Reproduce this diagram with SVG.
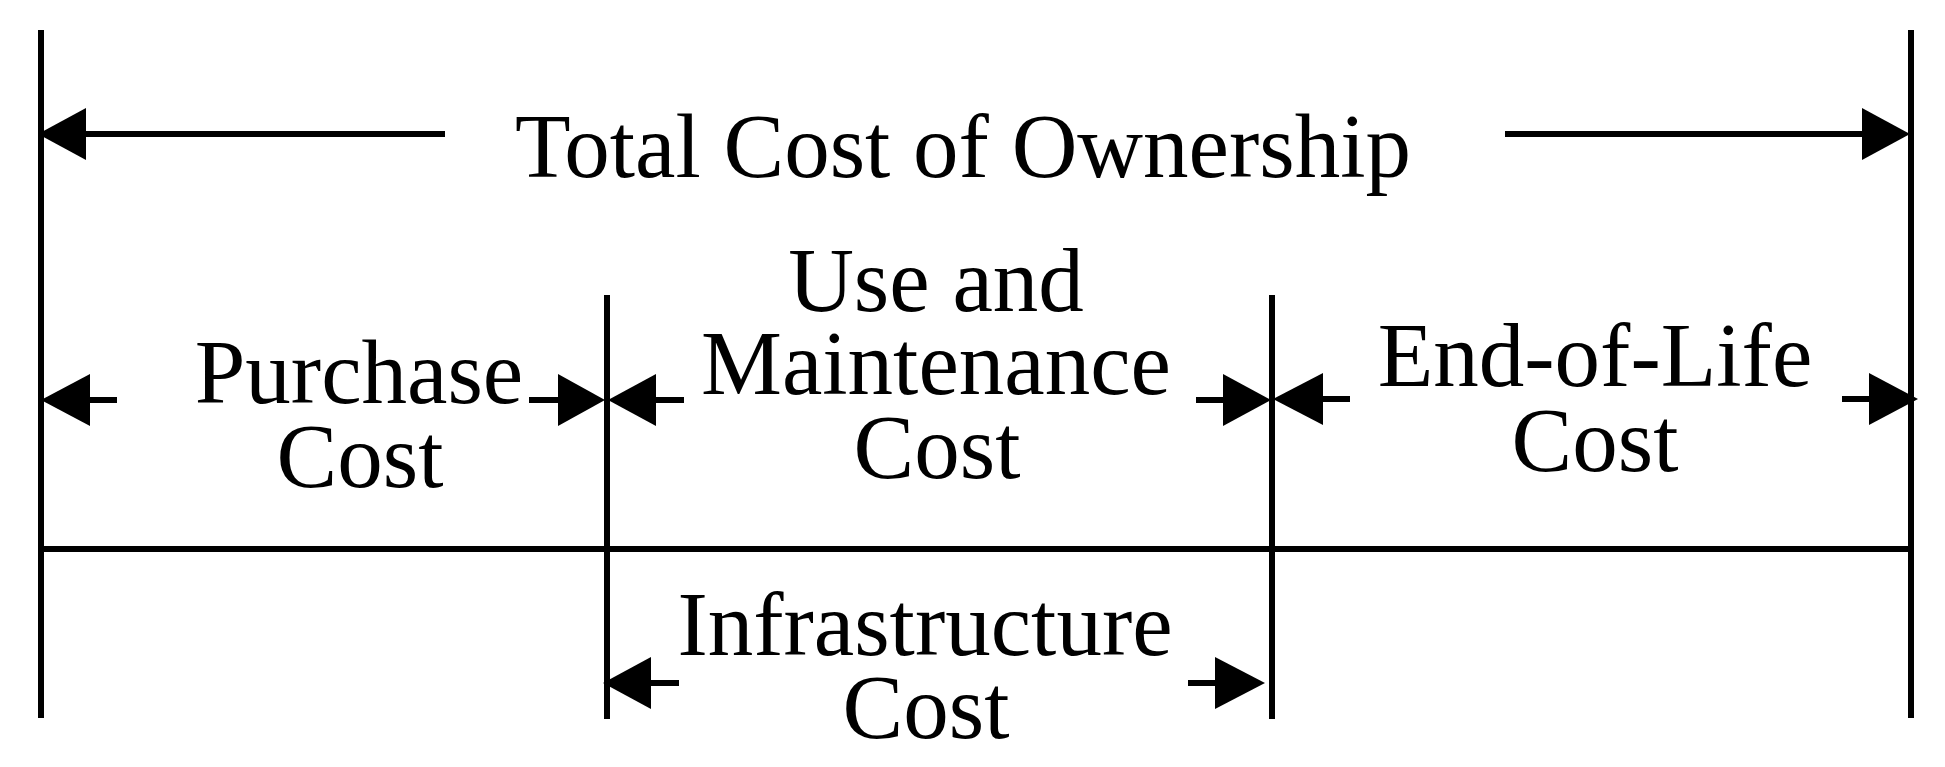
<svg xmlns="http://www.w3.org/2000/svg" width="1945" height="767" viewBox="0 0 1945 767">
<style>
.ln{stroke:#000;stroke-width:6;fill:none}
.hd{fill:#000;stroke:none}
.t{font-family:"Liberation Serif","Times New Roman",serif;font-size:91px;fill:#000;text-anchor:middle}
</style>
<rect width="1945" height="767" fill="#fff"/>
<g id="frame">
<line class="ln" x1="41" y1="30" x2="41" y2="718"/>
<line class="ln" x1="1911" y1="30" x2="1911" y2="718"/>
<line class="ln" x1="607" y1="295" x2="607" y2="719"/>
<line class="ln" x1="1272" y1="295" x2="1272" y2="719"/>
<line class="ln" x1="41" y1="549" x2="1911" y2="549"/>
</g>
<g id="connectors">
<line class="ln" x1="84" y1="134" x2="445" y2="134"/>
<polygon class="hd" points="38,134 86,108 86,160"/>
<line class="ln" x1="1505" y1="134" x2="1864" y2="134"/>
<polygon class="hd" points="1910,134 1862,108 1862,160"/>
<line class="ln" x1="88" y1="400" x2="117" y2="400"/>
<polygon class="hd" points="41,400 90,374 90,426"/>
<line class="ln" x1="529" y1="400" x2="560" y2="400"/>
<polygon class="hd" points="605,400 558,374 558,426"/>
<line class="ln" x1="654" y1="400" x2="684" y2="400"/>
<polygon class="hd" points="608,400 656,374 656,426"/>
<line class="ln" x1="1196" y1="400" x2="1225" y2="400"/>
<polygon class="hd" points="1271,400 1223,374 1223,426"/>
<line class="ln" x1="1321" y1="399" x2="1350" y2="399"/>
<polygon class="hd" points="1273,399 1323,373 1323,425"/>
<line class="ln" x1="1842" y1="399" x2="1871" y2="399"/>
<polygon class="hd" points="1918,399 1869,373 1869,425"/>
<line class="ln" x1="649" y1="683" x2="679" y2="683"/>
<polygon class="hd" points="603,683 651,657 651,709"/>
<line class="ln" x1="1188" y1="683" x2="1217" y2="683"/>
<polygon class="hd" points="1265,683 1215,657 1215,709"/>
</g>
<g id="total"><text class="t" x="963" y="177">Total Cost of Ownership</text></g>
<g id="purchase"><text class="t" x="359" y="403">Purchase</text><text class="t" x="360" y="487">Cost</text></g>
<g id="use-maintenance"><text class="t" x="936" y="311">Use and</text><text class="t" x="936" y="394">Maintenance</text><text class="t" x="937" y="478">Cost</text></g>
<g id="end-of-life"><text class="t" x="1595" y="386">End-of-Life</text><text class="t" x="1595" y="471">Cost</text></g>
<g id="infrastructure"><text class="t" x="925" y="655">Infrastructure</text><text class="t" x="926" y="738">Cost</text></g>
</svg>
